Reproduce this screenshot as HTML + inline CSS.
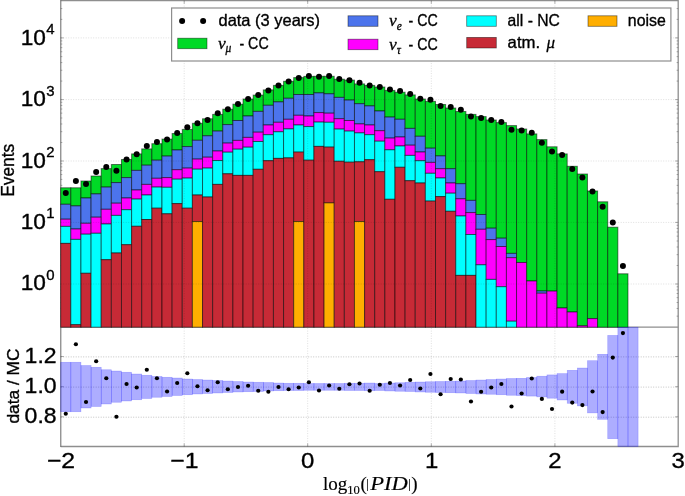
<!DOCTYPE html>
<html><head><meta charset="utf-8"><title>chart</title>
<style>html,body{margin:0;padding:0;background:#fff}body{width:685px;height:496px;overflow:hidden;position:relative}svg{position:absolute;left:0;top:0}</style>
</head><body>
<svg width="685" height="496" viewBox="0 0 685 496" style="display:block;font-family:'Liberation Sans',sans-serif">
<defs><filter id="bl" x="0" y="0" width="100%" height="100%" filterUnits="userSpaceOnUse" color-interpolation-filters="sRGB"><feGaussianBlur stdDeviation="0.45"/></filter></defs>
<style>text{stroke:#000;stroke-width:0.35px;stroke-linejoin:round}.sf text{stroke-width:0.15px}.sf2 text{stroke-width:0.3px}</style>
<g filter="url(#bl)">
<rect x="-5" y="-5" width="695" height="506" fill="#fff"/>
<g fill="none" stroke="#8e8e8e" stroke-width="1.3">
<path d="M60.7 0.6H678.2V446.5H60.7"/>
<path d="M60.7 327.2H678.2"/>
</g>
<path d="M60.8 0V447.1" fill="none" stroke="#6e6e6e" stroke-width="1.05"/>
<g stroke="#555" stroke-opacity="0.6" stroke-width="0.8">
<line x1="60.7" y1="37.9" x2="63.7" y2="37.9"/>
<line x1="678.2" y1="37.9" x2="675.2" y2="37.9"/>
<line x1="60.7" y1="19.39" x2="62.3" y2="19.39"/>
<line x1="678.2" y1="19.39" x2="676.6" y2="19.39"/>
<line x1="60.7" y1="8.56" x2="62.3" y2="8.56"/>
<line x1="678.2" y1="8.56" x2="676.6" y2="8.56"/>
<line x1="60.7" y1="99.6" x2="63.7" y2="99.6"/>
<line x1="678.2" y1="99.6" x2="675.2" y2="99.6"/>
<line x1="60.7" y1="81.09" x2="62.3" y2="81.09"/>
<line x1="678.2" y1="81.09" x2="676.6" y2="81.09"/>
<line x1="60.7" y1="70.26" x2="62.3" y2="70.26"/>
<line x1="678.2" y1="70.26" x2="676.6" y2="70.26"/>
<line x1="60.7" y1="62.57" x2="62.3" y2="62.57"/>
<line x1="678.2" y1="62.57" x2="676.6" y2="62.57"/>
<line x1="60.7" y1="56.61" x2="62.3" y2="56.61"/>
<line x1="678.2" y1="56.61" x2="676.6" y2="56.61"/>
<line x1="60.7" y1="51.74" x2="62.3" y2="51.74"/>
<line x1="678.2" y1="51.74" x2="676.6" y2="51.74"/>
<line x1="60.7" y1="47.63" x2="62.3" y2="47.63"/>
<line x1="678.2" y1="47.63" x2="676.6" y2="47.63"/>
<line x1="60.7" y1="44.06" x2="62.3" y2="44.06"/>
<line x1="678.2" y1="44.06" x2="676.6" y2="44.06"/>
<line x1="60.7" y1="40.91" x2="62.3" y2="40.91"/>
<line x1="678.2" y1="40.91" x2="676.6" y2="40.91"/>
<line x1="60.7" y1="161" x2="63.7" y2="161"/>
<line x1="678.2" y1="161" x2="675.2" y2="161"/>
<line x1="60.7" y1="142.49" x2="62.3" y2="142.49"/>
<line x1="678.2" y1="142.49" x2="676.6" y2="142.49"/>
<line x1="60.7" y1="131.66" x2="62.3" y2="131.66"/>
<line x1="678.2" y1="131.66" x2="676.6" y2="131.66"/>
<line x1="60.7" y1="123.97" x2="62.3" y2="123.97"/>
<line x1="678.2" y1="123.97" x2="676.6" y2="123.97"/>
<line x1="60.7" y1="118.01" x2="62.3" y2="118.01"/>
<line x1="678.2" y1="118.01" x2="676.6" y2="118.01"/>
<line x1="60.7" y1="113.14" x2="62.3" y2="113.14"/>
<line x1="678.2" y1="113.14" x2="676.6" y2="113.14"/>
<line x1="60.7" y1="109.03" x2="62.3" y2="109.03"/>
<line x1="678.2" y1="109.03" x2="676.6" y2="109.03"/>
<line x1="60.7" y1="105.46" x2="62.3" y2="105.46"/>
<line x1="678.2" y1="105.46" x2="676.6" y2="105.46"/>
<line x1="60.7" y1="102.31" x2="62.3" y2="102.31"/>
<line x1="678.2" y1="102.31" x2="676.6" y2="102.31"/>
<line x1="60.7" y1="222.4" x2="63.7" y2="222.4"/>
<line x1="678.2" y1="222.4" x2="675.2" y2="222.4"/>
<line x1="60.7" y1="203.89" x2="62.3" y2="203.89"/>
<line x1="678.2" y1="203.89" x2="676.6" y2="203.89"/>
<line x1="60.7" y1="193.06" x2="62.3" y2="193.06"/>
<line x1="678.2" y1="193.06" x2="676.6" y2="193.06"/>
<line x1="60.7" y1="185.37" x2="62.3" y2="185.37"/>
<line x1="678.2" y1="185.37" x2="676.6" y2="185.37"/>
<line x1="60.7" y1="179.41" x2="62.3" y2="179.41"/>
<line x1="678.2" y1="179.41" x2="676.6" y2="179.41"/>
<line x1="60.7" y1="174.54" x2="62.3" y2="174.54"/>
<line x1="678.2" y1="174.54" x2="676.6" y2="174.54"/>
<line x1="60.7" y1="170.43" x2="62.3" y2="170.43"/>
<line x1="678.2" y1="170.43" x2="676.6" y2="170.43"/>
<line x1="60.7" y1="166.86" x2="62.3" y2="166.86"/>
<line x1="678.2" y1="166.86" x2="676.6" y2="166.86"/>
<line x1="60.7" y1="163.71" x2="62.3" y2="163.71"/>
<line x1="678.2" y1="163.71" x2="676.6" y2="163.71"/>
<line x1="60.7" y1="284" x2="63.7" y2="284"/>
<line x1="678.2" y1="284" x2="675.2" y2="284"/>
<line x1="60.7" y1="265.49" x2="62.3" y2="265.49"/>
<line x1="678.2" y1="265.49" x2="676.6" y2="265.49"/>
<line x1="60.7" y1="254.66" x2="62.3" y2="254.66"/>
<line x1="678.2" y1="254.66" x2="676.6" y2="254.66"/>
<line x1="60.7" y1="246.97" x2="62.3" y2="246.97"/>
<line x1="678.2" y1="246.97" x2="676.6" y2="246.97"/>
<line x1="60.7" y1="241.01" x2="62.3" y2="241.01"/>
<line x1="678.2" y1="241.01" x2="676.6" y2="241.01"/>
<line x1="60.7" y1="236.14" x2="62.3" y2="236.14"/>
<line x1="678.2" y1="236.14" x2="676.6" y2="236.14"/>
<line x1="60.7" y1="232.03" x2="62.3" y2="232.03"/>
<line x1="678.2" y1="232.03" x2="676.6" y2="232.03"/>
<line x1="60.7" y1="228.46" x2="62.3" y2="228.46"/>
<line x1="678.2" y1="228.46" x2="676.6" y2="228.46"/>
<line x1="60.7" y1="225.31" x2="62.3" y2="225.31"/>
<line x1="678.2" y1="225.31" x2="676.6" y2="225.31"/>
<line x1="60.7" y1="316.16" x2="62.3" y2="316.16"/>
<line x1="678.2" y1="316.16" x2="676.6" y2="316.16"/>
<line x1="60.7" y1="308.47" x2="62.3" y2="308.47"/>
<line x1="678.2" y1="308.47" x2="676.6" y2="308.47"/>
<line x1="60.7" y1="302.51" x2="62.3" y2="302.51"/>
<line x1="678.2" y1="302.51" x2="676.6" y2="302.51"/>
<line x1="60.7" y1="297.64" x2="62.3" y2="297.64"/>
<line x1="678.2" y1="297.64" x2="676.6" y2="297.64"/>
<line x1="60.7" y1="293.53" x2="62.3" y2="293.53"/>
<line x1="678.2" y1="293.53" x2="676.6" y2="293.53"/>
<line x1="60.7" y1="289.96" x2="62.3" y2="289.96"/>
<line x1="678.2" y1="289.96" x2="676.6" y2="289.96"/>
<line x1="60.7" y1="286.81" x2="62.3" y2="286.81"/>
<line x1="678.2" y1="286.81" x2="676.6" y2="286.81"/>
<line x1="60.7" y1="356.5" x2="63.7" y2="356.5"/>
<line x1="678.2" y1="356.5" x2="675.2" y2="356.5"/>
<line x1="60.7" y1="386.7" x2="63.7" y2="386.7"/>
<line x1="678.2" y1="386.7" x2="675.2" y2="386.7"/>
<line x1="60.7" y1="416.8" x2="63.7" y2="416.8"/>
<line x1="678.2" y1="416.8" x2="675.2" y2="416.8"/>
<line x1="184.2" y1="446.5" x2="184.2" y2="443.5"/>
<line x1="184.2" y1="0.6" x2="184.2" y2="3.6"/>
<line x1="307.7" y1="446.5" x2="307.7" y2="443.5"/>
<line x1="307.7" y1="0.6" x2="307.7" y2="3.6"/>
<line x1="431.3" y1="446.5" x2="431.3" y2="443.5"/>
<line x1="431.3" y1="0.6" x2="431.3" y2="3.6"/>
<line x1="554.9" y1="446.5" x2="554.9" y2="443.5"/>
<line x1="554.9" y1="0.6" x2="554.9" y2="3.6"/>
</g>
<g stroke="rgba(0,0,0,0.52)" stroke-width="1" shape-rendering="geometricPrecision">
<rect x="60.7" y="187.8" width="10.13" height="16.5" fill="#00d926"/>
<rect x="60.7" y="204.3" width="10.13" height="14.9" fill="#4c74ec"/>
<rect x="60.7" y="219.2" width="10.13" height="7.2" fill="#ff00ff"/>
<rect x="60.7" y="226.4" width="10.13" height="17" fill="#00ffff"/>
<rect x="60.7" y="243.4" width="10.13" height="83.8" fill="#c72a36"/>
<rect x="70.83" y="187.8" width="10.13" height="18.1" fill="#00d926"/>
<rect x="70.83" y="205.9" width="10.13" height="23.1" fill="#4c74ec"/>
<rect x="70.83" y="229" width="10.13" height="10.4" fill="#ff00ff"/>
<rect x="70.83" y="239.4" width="10.13" height="85.3" fill="#00ffff"/>
<rect x="70.83" y="324.7" width="10.13" height="2.5" fill="#c72a36"/>
<rect x="80.96" y="181" width="10.13" height="17" fill="#00d926"/>
<rect x="80.96" y="198" width="10.13" height="25.3" fill="#4c74ec"/>
<rect x="80.96" y="223.3" width="10.13" height="10.9" fill="#ff00ff"/>
<rect x="80.96" y="234.2" width="10.13" height="39.1" fill="#00ffff"/>
<rect x="80.96" y="273.3" width="10.13" height="53.9" fill="#c72a36"/>
<rect x="91.09" y="176" width="10.13" height="17.9" fill="#00d926"/>
<rect x="91.09" y="193.9" width="10.13" height="23.3" fill="#4c74ec"/>
<rect x="91.09" y="217.2" width="10.13" height="16.1" fill="#ff00ff"/>
<rect x="91.09" y="233.3" width="10.13" height="93.9" fill="#00ffff"/>
<rect x="101.22" y="168.6" width="10.13" height="18.5" fill="#00d926"/>
<rect x="101.22" y="187.1" width="10.13" height="22.2" fill="#4c74ec"/>
<rect x="101.22" y="209.3" width="10.13" height="14.7" fill="#ff00ff"/>
<rect x="101.22" y="224" width="10.13" height="35.7" fill="#00ffff"/>
<rect x="101.22" y="259.7" width="10.13" height="67.5" fill="#c72a36"/>
<rect x="111.35" y="164.5" width="10.13" height="18.1" fill="#00d926"/>
<rect x="111.35" y="182.6" width="10.13" height="20.6" fill="#4c74ec"/>
<rect x="111.35" y="203.2" width="10.13" height="12.2" fill="#ff00ff"/>
<rect x="111.35" y="215.4" width="10.13" height="37.6" fill="#00ffff"/>
<rect x="111.35" y="253" width="10.13" height="74.2" fill="#c72a36"/>
<rect x="121.48" y="159.5" width="10.13" height="18.1" fill="#00d926"/>
<rect x="121.48" y="177.6" width="10.13" height="20.4" fill="#4c74ec"/>
<rect x="121.48" y="198" width="10.13" height="11.7" fill="#ff00ff"/>
<rect x="121.48" y="209.7" width="10.13" height="35" fill="#00ffff"/>
<rect x="121.48" y="244.7" width="10.13" height="82.5" fill="#c72a36"/>
<rect x="131.61" y="153.9" width="10.13" height="16.5" fill="#00d926"/>
<rect x="131.61" y="170.4" width="10.13" height="19.6" fill="#4c74ec"/>
<rect x="131.61" y="190" width="10.13" height="9.1" fill="#ff00ff"/>
<rect x="131.61" y="199.1" width="10.13" height="27.2" fill="#00ffff"/>
<rect x="131.61" y="226.3" width="10.13" height="100.9" fill="#c72a36"/>
<rect x="141.74" y="148.9" width="10.13" height="16.3" fill="#00d926"/>
<rect x="141.74" y="165.2" width="10.13" height="19.2" fill="#4c74ec"/>
<rect x="141.74" y="184.4" width="10.13" height="10.6" fill="#ff00ff"/>
<rect x="141.74" y="195" width="10.13" height="24.5" fill="#00ffff"/>
<rect x="141.74" y="219.5" width="10.13" height="107.7" fill="#c72a36"/>
<rect x="151.87" y="143.7" width="10.13" height="16.5" fill="#00d926"/>
<rect x="151.87" y="160.2" width="10.13" height="18.1" fill="#4c74ec"/>
<rect x="151.87" y="178.3" width="10.13" height="8.8" fill="#ff00ff"/>
<rect x="151.87" y="187.1" width="10.13" height="21.1" fill="#00ffff"/>
<rect x="151.87" y="208.2" width="10.13" height="119" fill="#c72a36"/>
<rect x="162" y="139.1" width="10.13" height="17" fill="#00d926"/>
<rect x="162" y="156.1" width="10.13" height="21.5" fill="#4c74ec"/>
<rect x="162" y="177.6" width="10.13" height="9.7" fill="#ff00ff"/>
<rect x="162" y="187.3" width="10.13" height="26.5" fill="#00ffff"/>
<rect x="162" y="213.8" width="10.13" height="113.4" fill="#c72a36"/>
<rect x="172.13" y="133.5" width="10.13" height="16.5" fill="#00d926"/>
<rect x="172.13" y="150" width="10.13" height="19.7" fill="#4c74ec"/>
<rect x="172.13" y="169.7" width="10.13" height="9.5" fill="#ff00ff"/>
<rect x="172.13" y="179.2" width="10.13" height="24.4" fill="#00ffff"/>
<rect x="172.13" y="203.6" width="10.13" height="123.6" fill="#c72a36"/>
<rect x="182.26" y="129.4" width="10.13" height="17.2" fill="#00d926"/>
<rect x="182.26" y="146.6" width="10.13" height="21.5" fill="#4c74ec"/>
<rect x="182.26" y="168.1" width="10.13" height="10" fill="#ff00ff"/>
<rect x="182.26" y="178.1" width="10.13" height="30.1" fill="#00ffff"/>
<rect x="182.26" y="208.2" width="10.13" height="119" fill="#c72a36"/>
<rect x="192.39" y="123.3" width="10.13" height="17" fill="#00d926"/>
<rect x="192.39" y="140.3" width="10.13" height="18.8" fill="#4c74ec"/>
<rect x="192.39" y="159.1" width="10.13" height="10.1" fill="#ff00ff"/>
<rect x="192.39" y="169.2" width="10.13" height="25.8" fill="#00ffff"/>
<rect x="192.39" y="195" width="10.13" height="26.5" fill="#c72a36"/>
<rect x="192.39" y="221.5" width="10.13" height="105.7" fill="#ffae00"/>
<rect x="202.52" y="118.8" width="10.13" height="17" fill="#00d926"/>
<rect x="202.52" y="135.8" width="10.13" height="21.4" fill="#4c74ec"/>
<rect x="202.52" y="157.2" width="10.13" height="10.9" fill="#ff00ff"/>
<rect x="202.52" y="168.1" width="10.13" height="28.9" fill="#00ffff"/>
<rect x="202.52" y="197" width="10.13" height="130.2" fill="#c72a36"/>
<rect x="212.65" y="114.4" width="10.13" height="16.7" fill="#00d926"/>
<rect x="212.65" y="131.1" width="10.13" height="19.9" fill="#4c74ec"/>
<rect x="212.65" y="151" width="10.13" height="9.5" fill="#ff00ff"/>
<rect x="212.65" y="160.5" width="10.13" height="23.9" fill="#00ffff"/>
<rect x="212.65" y="184.4" width="10.13" height="142.8" fill="#c72a36"/>
<rect x="222.78" y="109.2" width="10.13" height="15.4" fill="#00d926"/>
<rect x="222.78" y="124.6" width="10.13" height="18.5" fill="#4c74ec"/>
<rect x="222.78" y="143.1" width="10.13" height="9.1" fill="#ff00ff"/>
<rect x="222.78" y="152.2" width="10.13" height="21.6" fill="#00ffff"/>
<rect x="222.78" y="173.8" width="10.13" height="153.4" fill="#c72a36"/>
<rect x="232.91" y="104.2" width="10.13" height="16.3" fill="#00d926"/>
<rect x="232.91" y="120.5" width="10.13" height="19.9" fill="#4c74ec"/>
<rect x="232.91" y="140.4" width="10.13" height="8.8" fill="#ff00ff"/>
<rect x="232.91" y="149.2" width="10.13" height="26.2" fill="#00ffff"/>
<rect x="232.91" y="175.4" width="10.13" height="151.8" fill="#c72a36"/>
<rect x="243.04" y="99" width="10.13" height="17" fill="#00d926"/>
<rect x="243.04" y="116" width="10.13" height="21.4" fill="#4c74ec"/>
<rect x="243.04" y="137.4" width="10.13" height="9.8" fill="#ff00ff"/>
<rect x="243.04" y="147.2" width="10.13" height="28.2" fill="#00ffff"/>
<rect x="243.04" y="175.4" width="10.13" height="151.8" fill="#c72a36"/>
<rect x="253.17" y="95.1" width="10.13" height="16.3" fill="#00d926"/>
<rect x="253.17" y="111.4" width="10.13" height="20.8" fill="#4c74ec"/>
<rect x="253.17" y="132.2" width="10.13" height="9.3" fill="#ff00ff"/>
<rect x="253.17" y="141.5" width="10.13" height="27.8" fill="#00ffff"/>
<rect x="253.17" y="169.3" width="10.13" height="157.9" fill="#c72a36"/>
<rect x="263.3" y="89.9" width="10.13" height="15.4" fill="#00d926"/>
<rect x="263.3" y="105.3" width="10.13" height="19.7" fill="#4c74ec"/>
<rect x="263.3" y="125" width="10.13" height="9.7" fill="#ff00ff"/>
<rect x="263.3" y="134.7" width="10.13" height="26" fill="#00ffff"/>
<rect x="263.3" y="160.7" width="10.13" height="166.5" fill="#c72a36"/>
<rect x="273.43" y="85.4" width="10.13" height="16.5" fill="#00d926"/>
<rect x="273.43" y="101.9" width="10.13" height="20.4" fill="#4c74ec"/>
<rect x="273.43" y="122.3" width="10.13" height="9.5" fill="#ff00ff"/>
<rect x="273.43" y="131.8" width="10.13" height="26.6" fill="#00ffff"/>
<rect x="273.43" y="158.4" width="10.13" height="168.8" fill="#c72a36"/>
<rect x="283.56" y="81.3" width="10.13" height="17" fill="#00d926"/>
<rect x="283.56" y="98.3" width="10.13" height="21" fill="#4c74ec"/>
<rect x="283.56" y="119.3" width="10.13" height="9.6" fill="#ff00ff"/>
<rect x="283.56" y="128.9" width="10.13" height="29" fill="#00ffff"/>
<rect x="283.56" y="157.9" width="10.13" height="169.3" fill="#c72a36"/>
<rect x="293.69" y="77.6" width="10.13" height="16.9" fill="#00d926"/>
<rect x="293.69" y="94.5" width="10.13" height="20.8" fill="#4c74ec"/>
<rect x="293.69" y="115.3" width="10.13" height="9.7" fill="#ff00ff"/>
<rect x="293.69" y="125" width="10.13" height="27.1" fill="#00ffff"/>
<rect x="293.69" y="152.1" width="10.13" height="69.4" fill="#c72a36"/>
<rect x="293.69" y="221.5" width="10.13" height="105.7" fill="#ffae00"/>
<rect x="303.82" y="76.4" width="10.13" height="18.1" fill="#00d926"/>
<rect x="303.82" y="94.5" width="10.13" height="21.5" fill="#4c74ec"/>
<rect x="303.82" y="116" width="10.13" height="10.6" fill="#ff00ff"/>
<rect x="303.82" y="126.6" width="10.13" height="33.6" fill="#00ffff"/>
<rect x="303.82" y="160.2" width="10.13" height="167" fill="#c72a36"/>
<rect x="313.95" y="76.3" width="10.13" height="16.6" fill="#00d926"/>
<rect x="313.95" y="92.9" width="10.13" height="19.7" fill="#4c74ec"/>
<rect x="313.95" y="112.6" width="10.13" height="9.5" fill="#ff00ff"/>
<rect x="313.95" y="122.1" width="10.13" height="24.3" fill="#00ffff"/>
<rect x="313.95" y="146.4" width="10.13" height="180.8" fill="#c72a36"/>
<rect x="324.08" y="76.3" width="10.13" height="17.5" fill="#00d926"/>
<rect x="324.08" y="93.8" width="10.13" height="19.4" fill="#4c74ec"/>
<rect x="324.08" y="113.2" width="10.13" height="9.1" fill="#ff00ff"/>
<rect x="324.08" y="122.3" width="10.13" height="24.8" fill="#00ffff"/>
<rect x="324.08" y="147.1" width="10.13" height="55.8" fill="#c72a36"/>
<rect x="324.08" y="202.9" width="10.13" height="124.3" fill="#ffae00"/>
<rect x="334.21" y="79.2" width="10.13" height="18.2" fill="#00d926"/>
<rect x="334.21" y="97.4" width="10.13" height="21.3" fill="#4c74ec"/>
<rect x="334.21" y="118.7" width="10.13" height="10.4" fill="#ff00ff"/>
<rect x="334.21" y="129.1" width="10.13" height="32.2" fill="#00ffff"/>
<rect x="334.21" y="161.3" width="10.13" height="165.9" fill="#c72a36"/>
<rect x="344.34" y="80.1" width="10.13" height="20" fill="#00d926"/>
<rect x="344.34" y="100.1" width="10.13" height="20.4" fill="#4c74ec"/>
<rect x="344.34" y="120.5" width="10.13" height="10.6" fill="#ff00ff"/>
<rect x="344.34" y="131.1" width="10.13" height="31.1" fill="#00ffff"/>
<rect x="344.34" y="162.2" width="10.13" height="165" fill="#c72a36"/>
<rect x="354.47" y="83.9" width="10.13" height="19.8" fill="#00d926"/>
<rect x="354.47" y="103.7" width="10.13" height="20.2" fill="#4c74ec"/>
<rect x="354.47" y="123.9" width="10.13" height="9" fill="#ff00ff"/>
<rect x="354.47" y="132.9" width="10.13" height="28.9" fill="#00ffff"/>
<rect x="354.47" y="161.8" width="10.13" height="59.7" fill="#c72a36"/>
<rect x="354.47" y="221.5" width="10.13" height="105.7" fill="#ffae00"/>
<rect x="364.6" y="85.4" width="10.13" height="20.5" fill="#00d926"/>
<rect x="364.6" y="105.9" width="10.13" height="19.1" fill="#4c74ec"/>
<rect x="364.6" y="125" width="10.13" height="9.7" fill="#ff00ff"/>
<rect x="364.6" y="134.7" width="10.13" height="25" fill="#00ffff"/>
<rect x="364.6" y="159.7" width="10.13" height="167.5" fill="#c72a36"/>
<rect x="374.73" y="87" width="10.13" height="24" fill="#00d926"/>
<rect x="374.73" y="111" width="10.13" height="19.7" fill="#4c74ec"/>
<rect x="374.73" y="130.7" width="10.13" height="10.5" fill="#ff00ff"/>
<rect x="374.73" y="141.2" width="10.13" height="30.5" fill="#00ffff"/>
<rect x="374.73" y="171.7" width="10.13" height="155.5" fill="#c72a36"/>
<rect x="384.86" y="90.4" width="10.13" height="26.7" fill="#00d926"/>
<rect x="384.86" y="117.1" width="10.13" height="21" fill="#4c74ec"/>
<rect x="384.86" y="138.1" width="10.13" height="11.7" fill="#ff00ff"/>
<rect x="384.86" y="149.8" width="10.13" height="49.5" fill="#00ffff"/>
<rect x="384.86" y="199.3" width="10.13" height="127.9" fill="#c72a36"/>
<rect x="394.99" y="92.2" width="10.13" height="27.1" fill="#00d926"/>
<rect x="394.99" y="119.3" width="10.13" height="17.7" fill="#4c74ec"/>
<rect x="394.99" y="137" width="10.13" height="9" fill="#ff00ff"/>
<rect x="394.99" y="146" width="10.13" height="21.3" fill="#00ffff"/>
<rect x="394.99" y="167.3" width="10.13" height="159.9" fill="#c72a36"/>
<rect x="405.12" y="94.9" width="10.13" height="33.5" fill="#00d926"/>
<rect x="405.12" y="128.4" width="10.13" height="16.8" fill="#4c74ec"/>
<rect x="405.12" y="145.2" width="10.13" height="10.2" fill="#ff00ff"/>
<rect x="405.12" y="155.4" width="10.13" height="25.3" fill="#00ffff"/>
<rect x="405.12" y="180.7" width="10.13" height="146.5" fill="#c72a36"/>
<rect x="415.25" y="99" width="10.13" height="37.3" fill="#00d926"/>
<rect x="415.25" y="136.3" width="10.13" height="15.7" fill="#4c74ec"/>
<rect x="415.25" y="152" width="10.13" height="8.7" fill="#ff00ff"/>
<rect x="415.25" y="160.7" width="10.13" height="22.3" fill="#00ffff"/>
<rect x="415.25" y="183" width="10.13" height="144.2" fill="#c72a36"/>
<rect x="425.38" y="101.4" width="10.13" height="46.8" fill="#00d926"/>
<rect x="425.38" y="148.2" width="10.13" height="14.2" fill="#4c74ec"/>
<rect x="425.38" y="162.4" width="10.13" height="10.9" fill="#ff00ff"/>
<rect x="425.38" y="173.3" width="10.13" height="27.8" fill="#00ffff"/>
<rect x="425.38" y="201.1" width="10.13" height="126.1" fill="#c72a36"/>
<rect x="435.51" y="104.5" width="10.13" height="51.4" fill="#00d926"/>
<rect x="435.51" y="155.9" width="10.13" height="12.8" fill="#4c74ec"/>
<rect x="435.51" y="168.7" width="10.13" height="9.3" fill="#ff00ff"/>
<rect x="435.51" y="178" width="10.13" height="18.6" fill="#00ffff"/>
<rect x="435.51" y="196.6" width="10.13" height="130.6" fill="#c72a36"/>
<rect x="445.64" y="108" width="10.13" height="60.7" fill="#00d926"/>
<rect x="445.64" y="168.7" width="10.13" height="14.3" fill="#4c74ec"/>
<rect x="445.64" y="183" width="10.13" height="10.2" fill="#ff00ff"/>
<rect x="445.64" y="193.2" width="10.13" height="18.1" fill="#00ffff"/>
<rect x="445.64" y="211.3" width="10.13" height="115.9" fill="#c72a36"/>
<rect x="455.77" y="111.5" width="10.13" height="72.2" fill="#00d926"/>
<rect x="455.77" y="183.7" width="10.13" height="15.1" fill="#4c74ec"/>
<rect x="455.77" y="198.8" width="10.13" height="17.2" fill="#ff00ff"/>
<rect x="455.77" y="216" width="10.13" height="59.4" fill="#00ffff"/>
<rect x="455.77" y="275.4" width="10.13" height="51.8" fill="#c72a36"/>
<rect x="465.9" y="114.4" width="10.13" height="86" fill="#00d926"/>
<rect x="465.9" y="200.4" width="10.13" height="12.2" fill="#4c74ec"/>
<rect x="465.9" y="212.6" width="10.13" height="21.9" fill="#ff00ff"/>
<rect x="465.9" y="234.5" width="10.13" height="40.9" fill="#00ffff"/>
<rect x="465.9" y="275.4" width="10.13" height="51.8" fill="#c72a36"/>
<rect x="476.03" y="116.6" width="10.13" height="97.9" fill="#00d926"/>
<rect x="476.03" y="214.5" width="10.13" height="14.8" fill="#4c74ec"/>
<rect x="476.03" y="229.3" width="10.13" height="35.5" fill="#ff00ff"/>
<rect x="476.03" y="264.8" width="10.13" height="62.4" fill="#00ffff"/>
<rect x="486.16" y="120" width="10.13" height="108.2" fill="#00d926"/>
<rect x="486.16" y="228.2" width="10.13" height="11.4" fill="#4c74ec"/>
<rect x="486.16" y="239.6" width="10.13" height="39.8" fill="#ff00ff"/>
<rect x="486.16" y="279.4" width="10.13" height="47.8" fill="#00ffff"/>
<rect x="496.29" y="122.6" width="10.13" height="115.6" fill="#00d926"/>
<rect x="496.29" y="238.2" width="10.13" height="8.3" fill="#4c74ec"/>
<rect x="496.29" y="246.5" width="10.13" height="40.2" fill="#ff00ff"/>
<rect x="496.29" y="286.7" width="10.13" height="40.5" fill="#00ffff"/>
<rect x="506.42" y="125.6" width="10.13" height="127.8" fill="#00d926"/>
<rect x="506.42" y="253.4" width="10.13" height="4.3" fill="#4c74ec"/>
<rect x="506.42" y="257.7" width="10.13" height="63.5" fill="#ff00ff"/>
<rect x="506.42" y="321.2" width="10.13" height="6" fill="#00ffff"/>
<rect x="516.55" y="129" width="10.13" height="133.5" fill="#00d926"/>
<rect x="516.55" y="262.5" width="10.13" height="64.7" fill="#ff00ff"/>
<rect x="526.68" y="133.9" width="10.13" height="147.1" fill="#00d926"/>
<rect x="526.68" y="281" width="10.13" height="46.2" fill="#ff00ff"/>
<rect x="536.81" y="139.6" width="10.13" height="151.4" fill="#00d926"/>
<rect x="536.81" y="291" width="10.13" height="2.2" fill="#4c74ec"/>
<rect x="536.81" y="293.2" width="10.13" height="34" fill="#ff00ff"/>
<rect x="546.94" y="146.8" width="10.13" height="144.3" fill="#00d926"/>
<rect x="546.94" y="291.1" width="10.13" height="36.1" fill="#ff00ff"/>
<rect x="557.07" y="153.9" width="10.13" height="154.1" fill="#00d926"/>
<rect x="557.07" y="308" width="10.13" height="19.2" fill="#ff00ff"/>
<rect x="567.2" y="166.3" width="10.13" height="145.7" fill="#00d926"/>
<rect x="567.2" y="312" width="10.13" height="15.2" fill="#ff00ff"/>
<rect x="577.33" y="174" width="10.13" height="151.8" fill="#00d926"/>
<rect x="577.33" y="325.8" width="10.13" height="1.4" fill="#ff00ff"/>
<rect x="587.46" y="191" width="10.13" height="127.6" fill="#00d926"/>
<rect x="587.46" y="318.6" width="10.13" height="8.6" fill="#ff00ff"/>
<rect x="597.59" y="201.8" width="10.13" height="125.4" fill="#00d926"/>
<rect x="607.72" y="227.2" width="10.13" height="100" fill="#00d926"/>
<rect x="617.85" y="273.8" width="10.13" height="53.4" fill="#00d926"/>
</g>
<g stroke="#000" stroke-opacity="0.17" stroke-width="0.8" stroke-dasharray="1,1.5" fill="none">
<line x1="60.7" y1="37.9" x2="678.2" y2="37.9"/>
<line x1="60.7" y1="99.6" x2="678.2" y2="99.6"/>
<line x1="60.7" y1="161" x2="678.2" y2="161"/>
<line x1="60.7" y1="222.4" x2="678.2" y2="222.4"/>
<line x1="60.7" y1="284" x2="678.2" y2="284"/>
<line x1="184.2" y1="0.6" x2="184.2" y2="446.5"/>
<line x1="307.7" y1="0.6" x2="307.7" y2="446.5"/>
<line x1="431.3" y1="0.6" x2="431.3" y2="446.5"/>
<line x1="554.9" y1="0.6" x2="554.9" y2="446.5"/>
</g>
<g stroke="#000" stroke-opacity="0.3" stroke-width="0.8" stroke-dasharray="1,1.5" fill="none">
<line x1="60.7" y1="356.9" x2="678.2" y2="356.9"/>
<line x1="60.7" y1="387.1" x2="678.2" y2="387.1"/>
<line x1="60.7" y1="417.2" x2="678.2" y2="417.2"/>
</g>
<g fill="#0000ff" fill-opacity="0.32" stroke="#0000ff" stroke-opacity="0.25" stroke-width="0.6">
<rect x="60.7" y="362.25" width="10.13" height="49.5"/>
<rect x="70.83" y="362.25" width="10.13" height="49.5"/>
<rect x="80.96" y="365.5" width="10.13" height="42.5"/>
<rect x="91.09" y="367.25" width="10.13" height="39.25"/>
<rect x="101.22" y="369.75" width="10.13" height="34.25"/>
<rect x="111.35" y="371" width="10.13" height="31.25"/>
<rect x="121.48" y="372.25" width="10.13" height="28.75"/>
<rect x="131.61" y="374" width="10.13" height="25.75"/>
<rect x="141.74" y="375.25" width="10.13" height="23.25"/>
<rect x="151.87" y="376.5" width="10.13" height="20.75"/>
<rect x="162" y="377.25" width="10.13" height="19.25"/>
<rect x="172.13" y="378" width="10.13" height="17.5"/>
<rect x="182.26" y="379" width="10.13" height="15.75"/>
<rect x="192.39" y="379.5" width="10.13" height="14.5"/>
<rect x="202.52" y="380" width="10.13" height="13.5"/>
<rect x="212.65" y="380.5" width="10.13" height="12.5"/>
<rect x="222.78" y="381" width="10.13" height="11.5"/>
<rect x="232.91" y="381.5" width="10.13" height="10.5"/>
<rect x="243.04" y="382" width="10.13" height="9.75"/>
<rect x="253.17" y="382.25" width="10.13" height="9.25"/>
<rect x="263.3" y="382.5" width="10.13" height="8.5"/>
<rect x="273.43" y="383" width="10.13" height="7.75"/>
<rect x="283.56" y="383.25" width="10.13" height="7.25"/>
<rect x="293.69" y="383.25" width="10.13" height="7.25"/>
<rect x="303.82" y="383.5" width="10.13" height="6.75"/>
<rect x="313.95" y="383.5" width="10.13" height="6.75"/>
<rect x="324.08" y="383.5" width="10.13" height="6.75"/>
<rect x="334.21" y="383.5" width="10.13" height="6.75"/>
<rect x="344.34" y="383.25" width="10.13" height="7.25"/>
<rect x="354.47" y="383.25" width="10.13" height="7.25"/>
<rect x="364.6" y="383" width="10.13" height="7.75"/>
<rect x="374.73" y="383.5" width="10.13" height="7"/>
<rect x="384.86" y="383" width="10.13" height="8"/>
<rect x="394.99" y="382.75" width="10.13" height="8.5"/>
<rect x="405.12" y="382.25" width="10.13" height="9.25"/>
<rect x="415.25" y="382" width="10.13" height="10"/>
<rect x="425.38" y="381.75" width="10.13" height="10.5"/>
<rect x="435.51" y="381.5" width="10.13" height="11"/>
<rect x="445.64" y="381.25" width="10.13" height="11.5"/>
<rect x="455.77" y="381" width="10.13" height="12"/>
<rect x="465.9" y="380.5" width="10.13" height="13"/>
<rect x="476.03" y="380" width="10.13" height="14"/>
<rect x="486.16" y="379.5" width="10.13" height="14.75"/>
<rect x="496.29" y="379" width="10.13" height="15.75"/>
<rect x="506.42" y="378.5" width="10.13" height="16.75"/>
<rect x="516.55" y="378.3" width="10.13" height="17.3"/>
<rect x="526.68" y="377.5" width="10.13" height="18.6"/>
<rect x="536.81" y="376.2" width="10.13" height="20.7"/>
<rect x="546.94" y="374.9" width="10.13" height="23.3"/>
<rect x="557.07" y="373.6" width="10.13" height="26.4"/>
<rect x="567.2" y="370.3" width="10.13" height="33"/>
<rect x="577.33" y="368" width="10.13" height="37.9"/>
<rect x="587.46" y="360.7" width="10.13" height="52.2"/>
<rect x="597.59" y="354.3" width="10.13" height="65"/>
<rect x="607.72" y="335.4" width="10.13" height="103.3"/>
<rect x="617.85" y="327.2" width="10.13" height="119.3"/>
<rect x="627.98" y="327.2" width="10.13" height="119.3"/>
</g>
<g fill="#000">
<circle cx="65.77" cy="193" r="3.0"/>
<circle cx="75.9" cy="181" r="3.0"/>
<circle cx="86.03" cy="184" r="3.0"/>
<circle cx="96.16" cy="172" r="3.0"/>
<circle cx="106.28" cy="167" r="3.0"/>
<circle cx="116.42" cy="170.8" r="3.0"/>
<circle cx="126.55" cy="159.5" r="3.0"/>
<circle cx="136.68" cy="154.3" r="3.0"/>
<circle cx="146.81" cy="146" r="3.0"/>
<circle cx="156.94" cy="141.9" r="3.0"/>
<circle cx="167.06" cy="139.6" r="3.0"/>
<circle cx="177.19" cy="133" r="3.0"/>
<circle cx="187.33" cy="127.2" r="3.0"/>
<circle cx="197.46" cy="123.3" r="3.0"/>
<circle cx="207.59" cy="120" r="3.0"/>
<circle cx="217.72" cy="113.2" r="3.0"/>
<circle cx="227.85" cy="109.2" r="3.0"/>
<circle cx="237.98" cy="104" r="3.0"/>
<circle cx="248.11" cy="99" r="3.0"/>
<circle cx="258.24" cy="94.9" r="3.0"/>
<circle cx="268.37" cy="90.4" r="3.0"/>
<circle cx="278.5" cy="85.4" r="3.0"/>
<circle cx="288.62" cy="81.6" r="3.0"/>
<circle cx="298.75" cy="77.9" r="3.0"/>
<circle cx="308.89" cy="75.9" r="3.0"/>
<circle cx="319.01" cy="76.8" r="3.0"/>
<circle cx="329.14" cy="75.9" r="3.0"/>
<circle cx="339.28" cy="79.1" r="3.0"/>
<circle cx="349.41" cy="80.2" r="3.0"/>
<circle cx="359.54" cy="82.7" r="3.0"/>
<circle cx="369.67" cy="85.5" r="3.0"/>
<circle cx="379.8" cy="86.9" r="3.0"/>
<circle cx="389.93" cy="89.5" r="3.0"/>
<circle cx="400.06" cy="91" r="3.0"/>
<circle cx="410.19" cy="94.1" r="3.0"/>
<circle cx="420.31" cy="98.8" r="3.0"/>
<circle cx="430.44" cy="99.7" r="3.0"/>
<circle cx="440.58" cy="106.1" r="3.0"/>
<circle cx="450.71" cy="106.9" r="3.0"/>
<circle cx="460.84" cy="109.8" r="3.0"/>
<circle cx="470.97" cy="116.6" r="3.0"/>
<circle cx="481.1" cy="118" r="3.0"/>
<circle cx="491.23" cy="120" r="3.0"/>
<circle cx="501.36" cy="122.1" r="3.0"/>
<circle cx="511.49" cy="129.7" r="3.0"/>
<circle cx="521.62" cy="130.5" r="3.0"/>
<circle cx="531.75" cy="132.8" r="3.0"/>
<circle cx="541.88" cy="142.7" r="3.0"/>
<circle cx="552.01" cy="151.4" r="3.0"/>
<circle cx="562.14" cy="155" r="3.0"/>
<circle cx="572.27" cy="169" r="3.0"/>
<circle cx="582.4" cy="177.6" r="3.0"/>
<circle cx="592.53" cy="191.6" r="3.0"/>
<circle cx="602.66" cy="206.8" r="3.0"/>
<circle cx="612.79" cy="222.5" r="3.0"/>
<circle cx="622.92" cy="265.9" r="3.0"/>
<circle cx="65.77" cy="413.75" r="2.1"/>
<circle cx="75.9" cy="344.25" r="2.1"/>
<circle cx="86.03" cy="402" r="2.1"/>
<circle cx="96.16" cy="361.25" r="2.1"/>
<circle cx="106.28" cy="378.25" r="2.1"/>
<circle cx="116.42" cy="416.75" r="2.1"/>
<circle cx="126.55" cy="384" r="2.1"/>
<circle cx="136.68" cy="387.5" r="2.1"/>
<circle cx="146.81" cy="369.75" r="2.1"/>
<circle cx="156.94" cy="378.25" r="2.1"/>
<circle cx="167.06" cy="391.5" r="2.1"/>
<circle cx="177.19" cy="383" r="2.1"/>
<circle cx="187.33" cy="373.25" r="2.1"/>
<circle cx="197.46" cy="386.25" r="2.1"/>
<circle cx="207.59" cy="390.25" r="2.1"/>
<circle cx="217.72" cy="382.25" r="2.1"/>
<circle cx="227.85" cy="389.25" r="2.1"/>
<circle cx="237.98" cy="387" r="2.1"/>
<circle cx="248.11" cy="385.75" r="2.1"/>
<circle cx="258.24" cy="390.75" r="2.1"/>
<circle cx="268.37" cy="391.75" r="2.1"/>
<circle cx="278.5" cy="387" r="2.1"/>
<circle cx="288.62" cy="389.25" r="2.1"/>
<circle cx="298.75" cy="387.5" r="2.1"/>
<circle cx="308.89" cy="382.25" r="2.1"/>
<circle cx="319.01" cy="390.5" r="2.1"/>
<circle cx="329.14" cy="385.5" r="2.1"/>
<circle cx="339.28" cy="388.75" r="2.1"/>
<circle cx="349.41" cy="384.25" r="2.1"/>
<circle cx="359.54" cy="383.5" r="2.1"/>
<circle cx="369.67" cy="390.75" r="2.1"/>
<circle cx="379.8" cy="384.75" r="2.1"/>
<circle cx="389.93" cy="383" r="2.1"/>
<circle cx="400.06" cy="385.5" r="2.1"/>
<circle cx="410.19" cy="380" r="2.1"/>
<circle cx="420.31" cy="388.5" r="2.1"/>
<circle cx="430.44" cy="374" r="2.1"/>
<circle cx="440.58" cy="394.25" r="2.1"/>
<circle cx="450.71" cy="379" r="2.1"/>
<circle cx="460.84" cy="379.5" r="2.1"/>
<circle cx="470.97" cy="401.5" r="2.1"/>
<circle cx="481.1" cy="391.75" r="2.1"/>
<circle cx="491.23" cy="387.5" r="2.1"/>
<circle cx="501.36" cy="384" r="2.1"/>
<circle cx="511.49" cy="406.5" r="2.1"/>
<circle cx="521.62" cy="393.5" r="2.1"/>
<circle cx="531.75" cy="378.5" r="2.1"/>
<circle cx="541.88" cy="398.9" r="2.1"/>
<circle cx="552.01" cy="409" r="2.1"/>
<circle cx="562.14" cy="391.7" r="2.1"/>
<circle cx="572.27" cy="402.6" r="2.1"/>
<circle cx="582.4" cy="405.1" r="2.1"/>
<circle cx="592.53" cy="391.5" r="2.1"/>
<circle cx="602.66" cy="412.1" r="2.1"/>
<circle cx="612.79" cy="357.6" r="2.1"/>
<circle cx="622.92" cy="333.1" r="2.1"/>
</g>
<rect x="171.6" y="8" width="499.3" height="53" fill="#fff" stroke="#8e8e8e" stroke-width="1.2"/>
<circle cx="182.1" cy="21" r="3.0"/><circle cx="203.1" cy="21" r="3.0"/>
<rect x="177.7" y="38.2" width="29.3" height="10.5" fill="#00d926" stroke="rgba(0,0,0,0.52)" stroke-width="0.8"/>
<rect x="348" y="15.8" width="30" height="10.5" fill="#4c74ec" stroke="rgba(0,0,0,0.52)" stroke-width="0.8"/>
<rect x="348" y="39.2" width="30" height="10.5" fill="#ff00ff" stroke="rgba(0,0,0,0.52)" stroke-width="0.8"/>
<rect x="466.7" y="15.8" width="29.6" height="10.5" fill="#00ffff" stroke="rgba(0,0,0,0.52)" stroke-width="0.8"/>
<rect x="466.7" y="37.4" width="29.6" height="10.6" fill="#c72a36" stroke="rgba(0,0,0,0.52)" stroke-width="0.8"/>
<rect x="588" y="15.8" width="29" height="10.5" fill="#ffae00" stroke="rgba(0,0,0,0.52)" stroke-width="0.8"/>
<g font-size="16.5px" fill="#000">
<text x="218.5" y="26.3" textLength="101.5" lengthAdjust="spacingAndGlyphs">data (3 years)</text>
<text x="239.4" y="48.6" textLength="29.3" lengthAdjust="spacingAndGlyphs">- CC</text>
<text x="408.6" y="26.3" textLength="29.3" lengthAdjust="spacingAndGlyphs">- CC</text>
<text x="408.6" y="49.9" textLength="29.3" lengthAdjust="spacingAndGlyphs">- CC</text>
<text x="507.6" y="26.3" textLength="52.3" lengthAdjust="spacingAndGlyphs">all - NC</text>
<text x="507.6" y="48.1" textLength="32.5" lengthAdjust="spacingAndGlyphs">atm.</text>
<text x="627.8" y="26.3" textLength="38" lengthAdjust="spacingAndGlyphs">noise</text>
</g>
<g font-family="'Liberation Serif',serif" font-style="italic" fill="#000" class="sf2">
<text x="218" y="48.6" font-size="17.5px">&#957;</text><text x="225.6" y="52.4" font-size="11.5px">&#956;</text>
<text x="389" y="26.3" font-size="17.5px">&#957;</text><text x="396.8" y="29.8" font-size="11.5px">e</text>
<text x="389" y="49.9" font-size="17.5px">&#957;</text><text x="396.8" y="53.6" font-size="11.5px">&#964;</text>
<text x="546.5" y="48.1" font-size="17px">&#956;</text>
</g>
<g font-size="21.5px" fill="#000">
<text x="20.7" y="44.8" textLength="25.2" lengthAdjust="spacingAndGlyphs">10</text>
<text x="46.3" y="34.3" font-size="14.7px" textLength="8.3" lengthAdjust="spacingAndGlyphs">4</text>
<text x="20.7" y="106" textLength="25.2" lengthAdjust="spacingAndGlyphs">10</text>
<text x="46.3" y="95.5" font-size="14.7px" textLength="8.3" lengthAdjust="spacingAndGlyphs">3</text>
<text x="20.7" y="167.5" textLength="25.2" lengthAdjust="spacingAndGlyphs">10</text>
<text x="46.3" y="157" font-size="14.7px" textLength="8.3" lengthAdjust="spacingAndGlyphs">2</text>
<text x="20.7" y="228.7" textLength="25.2" lengthAdjust="spacingAndGlyphs">10</text>
<text x="46.3" y="218.2" font-size="14.7px" textLength="8.3" lengthAdjust="spacingAndGlyphs">1</text>
<text x="20.7" y="290.1" textLength="25.2" lengthAdjust="spacingAndGlyphs">10</text>
<text x="46.3" y="279.6" font-size="14.7px" textLength="8.3" lengthAdjust="spacingAndGlyphs">0</text>
<text x="24.6" y="362.6" textLength="32" lengthAdjust="spacingAndGlyphs">1.2</text>
<text x="24.6" y="392.8" textLength="32" lengthAdjust="spacingAndGlyphs">1.0</text>
<text x="24.6" y="422.9" textLength="32" lengthAdjust="spacingAndGlyphs">0.8</text>
</g>
<g font-size="22.5px" fill="#000">
<text x="46.9" y="468.4" textLength="28.2" lengthAdjust="spacingAndGlyphs">&#8722;2</text>
<text x="170.3" y="468.4" textLength="28.2" lengthAdjust="spacingAndGlyphs">&#8722;1</text>
<text x="301.05" y="468.4" textLength="13.3" lengthAdjust="spacingAndGlyphs">0</text>
<text x="424.95" y="468.4" textLength="13.3" lengthAdjust="spacingAndGlyphs">1</text>
<text x="548.25" y="468.4" textLength="13.3" lengthAdjust="spacingAndGlyphs">2</text>
<text x="671.55" y="468.4" textLength="13.3" lengthAdjust="spacingAndGlyphs">3</text>
</g>
<text transform="translate(13.5,196.8) rotate(-90)" font-size="17.6px" textLength="53" lengthAdjust="spacingAndGlyphs">Events</text>
<text transform="translate(19.1,423.6) rotate(-90)" font-size="17.2px" textLength="75" lengthAdjust="spacingAndGlyphs">data / MC</text>
<g font-family="'Liberation Serif',serif" fill="#000" class="sf">
<text x="323" y="489.6" font-size="19px">log</text>
<text x="347.3" y="493.8" font-size="12.5px" textLength="12.6" lengthAdjust="spacingAndGlyphs">10</text>
<text x="360.4" y="489.6" font-size="19px">(</text>
<text x="366.3" y="487.6" font-size="13px">|</text>
<text x="370.3" y="489.6" font-size="19px" font-style="italic" textLength="37.6" lengthAdjust="spacingAndGlyphs">PID</text>
<text x="408.2" y="487.6" font-size="13px">|</text>
<text x="411.2" y="489.6" font-size="19px">)</text>
</g>
</g>
</svg>
</body></html>
